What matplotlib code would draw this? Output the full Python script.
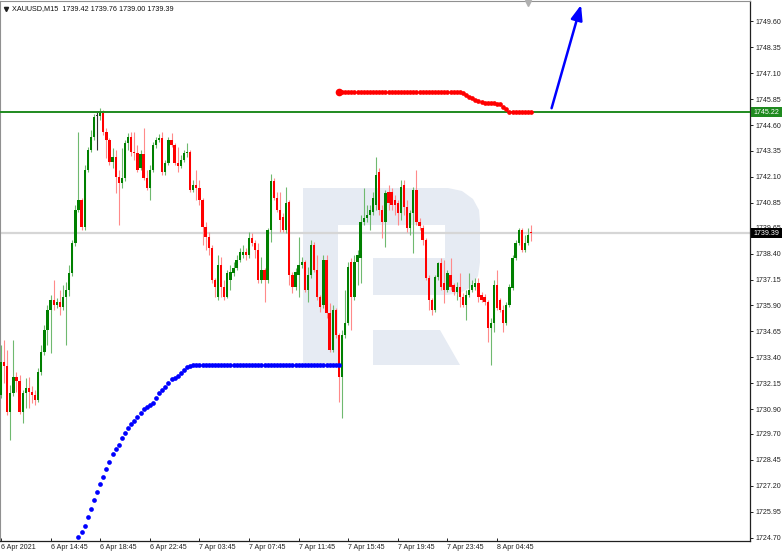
import matplotlib
matplotlib.use('Agg')
import matplotlib.pyplot as plt
import matplotlib.transforms as mtransforms
from matplotlib.patches import Polygon, Rectangle

# ---------------- data ----------------
symbol_header = "XAUUSD,M15  1739.42 1739.76 1739.00 1739.39"

opens = [
1731.58,1733.17,1732.98,1730.76,1731.68,1732.45,1732.26,1730.76,1731.68,1731.92,
1731.73,1731.58,1731.34,1732.69,1733.66,1734.72,1735.68,1736.16,1735.92,1736.07,
1735.82,1736.31,1736.64,1737.46,1738.91,1740.50,1740.98,1739.68,1742.43,1743.39,
1744.02,1745.03,1745.03,1745.18,1744.26,1743.88,1742.82,1743.06,1742.09,1741.80,
1742.04,1743.73,1744.02,1743.30,1743.25,1742.53,1743.20,1742.04,1741.56,1742.43,
1743.64,1743.88,1743.97,1742.33,1742.77,1743.88,1743.64,1742.77,1742.62,1742.91,
1743.25,1743.30,1741.47,1741.71,1741.56,1740.98,1739.68,1739.20,1738.67,1737.13,
1736.31,1737.85,1736.79,1736.31,1737.13,1737.46,1737.71,1738.09,1738.33,1738.48,
1738.33,1739.15,1738.91,1738.57,1737.13,1737.61,1737.13,1739.54,1741.90,1741.08,
1740.50,1740.16,1739.54,1740.89,1737.37,1736.79,1737.37,1737.85,1737.99,1736.64,
1737.37,1738.81,1737.61,1736.31,1735.92,1738.09,1735.53,1733.75,1735.68,1734.47,
1732.45,1734.47,1735.05,1737.99,1736.31,1737.99,1738.19,1739.92,1740.12,1740.26,
1740.41,1740.74,1742.33,1740.50,1739.92,1741.37,1741.37,1740.98,1740.84,1740.36,
1741.71,1740.65,1739.63,1740.36,1741.47,1739.92,1739.63,1739.06,1737.22,1736.16,
1735.68,1737.27,1737.95,1736.98,1736.64,1737.37,1736.89,1736.55,1736.79,1736.31,
1735.92,1736.40,1736.64,1736.79,1736.98,1736.40,1736.31,1736.07,1734.81,1735.05,
1736.89,1736.16,1735.68,1735.05,1735.92,1736.74,1738.19,1738.91,1739.54,1738.57,
1738.91,1739.42]

closes = [
1733.17,1732.98,1730.76,1731.68,1732.45,1732.26,1730.76,1731.68,1731.92,1731.73,
1731.58,1731.34,1732.69,1733.66,1734.72,1735.68,1736.16,1735.92,1736.07,1735.82,
1736.31,1736.64,1737.46,1738.91,1740.50,1740.98,1739.68,1742.43,1743.39,1744.02,
1744.99,1745.03,1745.18,1744.26,1743.88,1742.82,1743.06,1742.09,1741.80,1742.04,
1743.73,1744.02,1743.30,1743.25,1742.43,1743.20,1742.04,1741.56,1742.43,1743.64,
1743.88,1743.97,1742.33,1742.77,1743.88,1743.64,1742.77,1742.62,1742.91,1743.25,
1743.30,1741.47,1741.71,1741.56,1740.98,1739.68,1739.20,1738.67,1737.13,1736.79,
1737.85,1736.79,1736.31,1737.46,1737.51,1737.71,1738.09,1738.48,1738.48,1738.33,
1739.15,1738.91,1738.57,1737.13,1737.61,1737.13,1739.54,1741.90,1741.08,1740.50,
1740.02,1739.54,1740.84,1737.37,1736.79,1737.51,1737.85,1737.99,1736.64,1737.37,
1738.81,1737.61,1736.31,1735.82,1738.09,1735.53,1733.75,1735.68,1734.47,1732.45,
1734.47,1735.05,1737.75,1736.31,1737.99,1738.33,1739.92,1740.12,1740.26,1740.50,
1741.08,1742.19,1740.50,1739.92,1741.32,1740.84,1740.74,1740.74,1740.36,1741.61,
1740.65,1739.63,1740.36,1741.47,1739.92,1739.73,1739.06,1737.22,1736.16,1735.68,
1737.27,1737.95,1736.79,1736.64,1737.46,1736.79,1736.55,1736.79,1736.31,1735.92,
1736.40,1736.64,1736.89,1736.98,1736.31,1736.16,1736.07,1734.81,1735.05,1736.89,
1735.78,1735.68,1735.05,1735.92,1736.79,1738.19,1738.91,1739.54,1738.57,1738.91,
1739.30,1739.39]

highs = [
1733.99,1734.23,1733.75,1732.06,1734.23,1732.69,1732.55,1731.82,1732.40,1732.45,
1732.02,1731.82,1732.88,1733.99,1734.96,1735.92,1736.40,1737.13,1736.26,1736.64,
1736.89,1737.03,1737.85,1739.06,1740.74,1744.26,1741.08,1742.67,1743.54,1744.36,
1745.13,1745.23,1745.42,1745.32,1744.46,1743.97,1743.49,1743.39,1742.43,1743.49,
1743.88,1744.21,1744.26,1744.26,1743.64,1743.39,1744.46,1742.43,1742.67,1743.78,
1744.02,1744.17,1744.26,1742.91,1744.02,1744.21,1743.73,1743.54,1743.15,1743.39,
1743.73,1743.39,1741.95,1742.43,1741.95,1741.08,1739.92,1739.44,1738.81,1737.22,
1738.33,1738.24,1737.13,1737.61,1737.85,1737.99,1738.33,1738.67,1738.81,1738.67,
1739.44,1739.39,1739.06,1738.91,1738.24,1737.71,1739.63,1742.24,1742.04,1741.37,
1741.37,1740.36,1741.61,1740.98,1737.51,1737.71,1739.20,1738.24,1738.09,1737.75,
1739.06,1738.96,1738.33,1736.40,1738.33,1738.33,1736.02,1735.92,1735.78,1734.57,
1734.72,1736.64,1737.99,1738.19,1738.33,1738.57,1740.26,1741.56,1740.74,1740.74,
1741.37,1743.06,1742.53,1740.74,1741.47,1741.71,1741.56,1741.22,1740.98,1741.95,
1741.95,1740.98,1740.50,1741.61,1742.43,1740.12,1739.78,1739.15,1737.37,1736.26,
1737.37,1737.99,1738.19,1738.09,1737.61,1738.19,1736.98,1737.03,1737.46,1736.50,
1736.64,1737.46,1737.13,1737.22,1737.22,1736.55,1736.45,1736.16,1735.30,1737.13,
1737.61,1736.26,1735.92,1736.07,1736.94,1738.33,1739.06,1739.63,1739.63,1739.30,
1739.63,1739.76]

lows = [
1731.44,1732.16,1730.62,1729.41,1731.53,1731.73,1730.67,1730.23,1730.96,1730.96,
1731.20,1731.10,1731.25,1732.55,1733.51,1733.99,1733.61,1735.68,1735.78,1735.44,
1735.68,1733.99,1736.36,1737.32,1738.77,1740.41,1739.54,1739.54,1742.33,1743.30,
1743.88,1743.39,1744.84,1744.12,1743.01,1742.67,1742.53,1741.32,1739.78,1741.56,
1741.90,1743.39,1743.11,1742.91,1742.33,1742.43,1741.95,1741.47,1740.98,1742.33,
1743.49,1743.78,1742.19,1742.19,1742.67,1743.54,1742.67,1742.33,1742.53,1742.82,
1743.06,1741.37,1741.37,1740.98,1740.74,1738.81,1738.57,1738.33,1736.98,1736.31,
1736.16,1736.31,1736.16,1736.26,1736.64,1737.32,1737.61,1737.99,1738.19,1738.09,
1738.19,1738.77,1738.19,1736.98,1736.98,1736.07,1736.98,1738.96,1740.98,1740.41,
1739.44,1739.44,1739.39,1736.89,1736.50,1736.64,1736.31,1737.71,1736.55,1736.07,
1737.22,1737.51,1736.16,1735.58,1735.78,1735.29,1733.66,1733.66,1734.33,1731.25,
1730.47,1734.33,1734.96,1734.72,1736.16,1736.89,1736.98,1739.78,1739.92,1739.54,
1740.26,1740.50,1740.26,1739.15,1738.72,1740.50,1740.50,1740.26,1739.78,1740.02,
1740.26,1739.44,1739.30,1738.43,1739.78,1739.54,1738.81,1737.13,1735.68,1735.44,
1735.58,1737.13,1736.64,1736.02,1736.55,1736.64,1736.40,1736.16,1735.82,1735.82,
1735.20,1736.31,1736.55,1736.64,1736.07,1736.07,1735.92,1734.14,1733.03,1734.62,
1735.68,1735.58,1734.62,1734.96,1735.82,1736.64,1738.09,1738.81,1738.48,1738.48,
1738.81,1739.00]

# blue dotted indicator (support), first bar index 23
blue_start = 23
blue_vals = [
1723.96,1724.35,1724.74,1724.98,1725.27,1725.70,1726.09,1726.52,1726.91,1727.29,
1727.63,1728.01,1728.35,1728.74,1728.98,1729.17,1729.51,1729.75,1729.99,1730.18,
1730.33,1730.52,1730.71,1730.91,1731.00,1731.10,1731.20,1731.44,1731.68,1731.82,
1731.97,1732.16,1732.35,1732.40,1732.50,1732.64,1732.79,1732.93,1732.98,1733.03,
1733.03,1733.03,1733.03,1733.03,1733.03,1733.03,1733.03,1733.03,1733.03,1733.03,
1733.03,1733.03,1733.03,1733.03,1733.03,1733.03,1733.03,1733.03,1733.03,1733.03,
1733.03,1733.03,1733.03,1733.03,1733.03,1733.03,1733.03,1733.03,1733.03,1733.03,
1733.03,1733.03,1733.03,1733.03,1733.03,1733.03,1733.03,1733.03,1733.03,1733.03,
1733.03,1733.03,1733.03,1733.03,1733.03,1733.03,1733.03]

# red dotted indicator (resistance), first bar index 109
red_start = 109
red_vals = [
1746.19,1746.19,1746.19,1746.19,1746.19,1746.19,1746.19,1746.19,1746.19,1746.19,
1746.19,1746.19,1746.19,1746.19,1746.19,1746.19,1746.19,1746.19,1746.19,1746.19,
1746.19,1746.19,1746.19,1746.19,1746.19,1746.19,1746.19,1746.19,1746.19,1746.19,
1746.19,1746.19,1746.19,1746.19,1746.19,1746.19,1746.19,1746.19,1746.19,1746.17,
1746.12,1746.05,1745.97,1745.90,1745.83,1745.78,1745.73,1745.68,1745.65,1745.65,
1745.64,1745.61,1745.59,1745.49,1745.37,1745.25,1745.24,1745.24,1745.24,1745.24,
1745.24,1745.24,1745.24]

level_line = 1745.22
current_price = 1739.39

ytick_vals = [1749.60, 1748.35, 1747.10, 1745.85, 1744.60, 1743.35, 1742.10,
              1740.85, 1739.65, 1738.40, 1737.15, 1735.90, 1734.65, 1733.40,
              1732.15, 1730.90, 1729.70, 1728.45, 1727.20, 1725.95, 1724.70]
xtick_bars = [0, 16, 32, 48, 64, 80, 96, 112, 128, 144, 160]
xtick_labels = ["6 Apr 2021", "6 Apr 14:45", "6 Apr 18:45", "6 Apr 22:45",
                "7 Apr 03:45", "7 Apr 07:45", "7 Apr 11:45", "7 Apr 15:45",
                "7 Apr 19:45", "7 Apr 23:45", "8 Apr 04:45"]

# forecast arrow (bar index, price)
arrow_from = (177.6, 1745.41)
arrow_to = (187.1, 1750.39)

# ---------------- figure ----------------
W, H = 782, 555
FONT = 'Liberation Sans'
fig = plt.figure(figsize=(W / 100, H / 100), dpi=100)
fig.patch.set_facecolor('white')
ax = fig.add_axes([0 / W, (H - 541) / H, 750 / W, 540 / H])
ax.set_facecolor('white')

px = mtransforms.Affine2D().scale(1 / W, -1 / H).translate(0, 1) + fig.transFigure

# watermark (stylised R)
wm_color = '#e6ebf3'
r_outer = [(303, 365), (303, 188), (448, 188), (462, 191), (473, 199), (479, 210),
           (480, 222), (480, 262), (478, 276), (471, 287), (460, 293), (448, 295),
           (373, 295), (373, 258), (445, 258), (445, 225), (338, 225), (338, 365)]
r_leg = [(373, 330), (440, 330), (460, 365), (373, 365)]
for poly in (r_outer, r_leg):
    ax.add_patch(Polygon(poly, closed=True, transform=px, facecolor=wm_color,
                         edgecolor='none', zorder=0))

xmin, xmax = -0.32, 241.6
ymin, ymax = 1724.54, 1750.58
ax.set_xlim(xmin, xmax)
ax.set_ylim(ymin, ymax)

# horizontal lines
ax.axhline(current_price, color='#d6d6d6', lw=1.6, zorder=1)
ax.axhline(level_line, color='#1f8a1f', lw=1.4, zorder=4)

# candles
n = len(closes)
idx = list(range(n))
body_w = 0.74
for i in idx:
    o, c, h, l = opens[i], closes[i], highs[i], lows[i]
    if c > o:
        bc, wc = '#008000', '#6fb96f'
    elif c < o:
        bc, wc = '#ff0000', '#ff8a8a'
    else:
        bc, wc = '#303030', '#303030'
    ax.vlines(i, l, h, colors=wc, lw=0.8, zorder=2)
    bot = min(o, c)
    hgt = max(abs(c - o), 0.045)
    ax.bar(i, hgt, bottom=bot, width=body_w, color=bc, linewidth=0, zorder=3)

# blue dots
bx = [blue_start + k for k in range(len(blue_vals))]
ax.plot(bx, blue_vals, 'o', color='#0000ff', ms=3.4, mec='none', zorder=5)

# red dots
rx = [red_start + k for k in range(len(red_vals))]
ax.plot(rx, red_vals, 'o', color='#ff0000', ms=3.4, mec='none', zorder=5)
ax.plot(rx[0], red_vals[0], 'o', color='#ff0000', ms=5.5, mec='none', zorder=5)

# arrow
ax.annotate('', xy=arrow_to, xytext=arrow_from,
            arrowprops=dict(arrowstyle='-|>,head_length=0.9,head_width=0.35',
                            color='#0000ff', lw=1.8, shrinkA=0, shrinkB=0),
            annotation_clip=False, zorder=6)

# spines
for s in ('left', 'top'):
    ax.spines[s].set_color('#909090')
    ax.spines[s].set_linewidth(0.8)
for s in ('right', 'bottom'):
    ax.spines[s].set_color('#202020')
    ax.spines[s].set_linewidth(0.9)

# y axis on right
ax.yaxis.tick_right()
ax.set_yticks(ytick_vals)
ax.set_yticklabels([f"{v:.2f}" for v in ytick_vals])
ax.tick_params(axis='y', direction='out', length=2.2, width=0.7, pad=1.5,
               labelsize=5.1, colors='#202020')
for t in ax.get_yticklabels():
    t.set_fontfamily(FONT)

# x axis
ax.set_xticks(xtick_bars)
ax.set_xticklabels(xtick_labels, ha='left')
ax.tick_params(axis='x', direction='in', length=2.5, width=0.7, pad=2.5,
               labelsize=5.1, colors='#202020')
for t in ax.get_xticklabels():
    t.set_fontfamily(FONT)

# price boxes on right axis (drawn over the tick labels, as in the terminal)
def price_box(price, fc):
    ypix = ax.transData.transform((0, price))[1]
    yc = H - ypix
    rect = Rectangle((751, yc - 5), 31, 10, transform=px, facecolor=fc,
                     edgecolor='none', zorder=10, clip_on=False)
    fig.add_artist(rect)
    fig.text(766.5 / W, 1 - yc / H, f"{price:.2f}", color='white', fontsize=5.1,
             family=FONT, ha='center', va='center', zorder=11)

price_box(level_line, '#1f8a1f')
price_box(current_price, '#000000')

# header
fig.text(12 / W, 1 - 9 / H, symbol_header, fontsize=5.2, family=FONT,
         color='#101010', ha='left', va='center')
fig.add_artist(plt.Line2D([6 / W], [1 - 8.5 / H], marker='v', color='#202020',
                          ms=3, transform=fig.transFigure))
fig.add_artist(plt.Line2D([528 / W], [1 - 3 / H], marker='v', color='#b0b0b0',
                          ms=4, transform=fig.transFigure))

fig.savefig('out.png', dpi=100, facecolor='white')
